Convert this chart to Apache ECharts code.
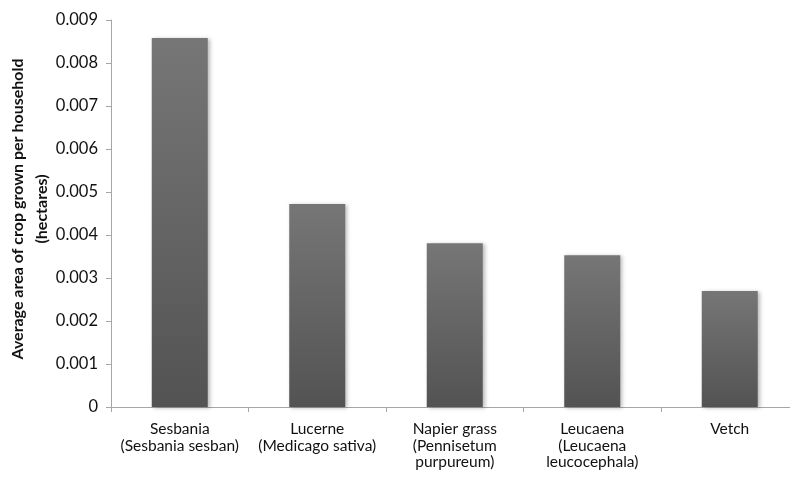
<!DOCTYPE html>
<html>
<head>
<meta charset="utf-8">
<script src="https://cdn.jsdelivr.net/npm/echarts@6/dist/echarts.min.js"></script>
<style>
  html, body { margin: 0; padding: 0; background: #fff; }
  #chart { width: 790px; height: 482px; }
</style>
</head>
<body>
<div id="chart"></div>
<script>
// Fodder crops and the mean area planted per household (hectares)
const crops = [
  'Sesbania\n(Sesbania sesban)',
  'Lucerne\n(Medicago sativa)',
  'Napier grass\n(Pennisetum\npurpureum)',
  'Leucaena\n(Leucaena\nleucocephala)',
  'Vetch'
];
const areaHa = [0.00858, 0.00472, 0.00381, 0.00353, 0.00270];
const yTicks = { min: 0, max: 0.009, step: 0.001 };
const yTitle = 'Average area of crop grown per household\n(hectares)';

const FONT = 'Lato, "Open Sans", sans-serif';

const chart = echarts.init(document.getElementById('chart'), null, { renderer: 'canvas' });
chart.setOption({
  animation: false,
  backgroundColor: '#ffffff',
  grid: {
    left: 111, top: 20, width: 687.5, height: 387,
    containLabel: false,
    outerBoundsMode: 'none'
  },
  // vertical value-axis title, two centred lines
  graphic: [{
    type: 'text',
    x: 30,
    y: 209,
    rotation: Math.PI / 2,
    style: {
      text: yTitle,
      fill: '#111',
      fontFamily: FONT,
      fontSize: 16,
      fontWeight: 'bold',
      lineHeight: 24,
      align: 'center',
      verticalAlign: 'middle'
    }
  }],
  xAxis: {
    type: 'category',
    data: crops,
    axisLine: { lineStyle: { color: '#a6a6a6', width: 1 } },
    axisTick: { show: true, length: 5, lineStyle: { color: '#a6a6a6' } },
    axisLabel: {
      interval: 0,
      margin: 14,
      color: '#111',
      fontFamily: FONT,
      fontSize: 15.5,
      lineHeight: 16.5
    }
  },
  yAxis: {
    type: 'value',
    min: yTicks.min,
    max: yTicks.max,
    interval: yTicks.step,
    axisLine: { show: true, lineStyle: { color: '#a6a6a6', width: 1 } },
    axisTick: { show: true, length: 5, lineStyle: { color: '#a6a6a6' } },
    splitLine: { show: false },
    axisLabel: {
      margin: 13,
      color: '#111',
      fontFamily: FONT,
      fontSize: 16.5,
      formatter: v => (v === 0 ? '0' : v.toFixed(3))
    }
  },
  series: [{
    type: 'bar',
    data: areaHa,
    barWidth: 56,
    itemStyle: {
      color: new echarts.graphic.LinearGradient(0, 0, 0, 1, [
        { offset: 0, color: '#767676' },
        { offset: 1, color: '#535353' }
      ]),
      shadowColor: 'rgba(0,0,0,0.28)',
      shadowBlur: 4,
      shadowOffsetX: 2,
      shadowOffsetY: 1
    }
  }]
});
</script>
</body>
</html>
